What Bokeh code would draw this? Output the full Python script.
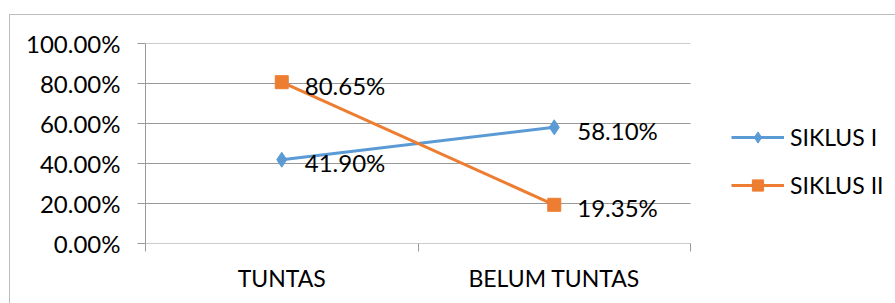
from bokeh.plotting import figure
from bokeh.models import (Range1d, FixedTicker, LinearAxis, Legend, LegendItem,
                          PrintfTickFormatter, ColumnDataSource)
from bokeh.core.properties import value
from bokeh.embed import file_html
from bokeh.resources import INLINE

categories = ["TUNTAS", "BELUM TUNTAS"]
siklus1 = [41.90, 58.10]
siklus2 = [80.65, 19.35]
series_names = ["SIKLUS I", "SIKLUS II"]
y_ticks = [0, 20, 40, 60, 80, 100]

FONT = "Lato"
BLUE = "#5B9BD5"
ORANGE = "#ED7D31"
GRID = "#999999"
BORDER = "#bdbdbd"

n = len(categories)
xpos = [i + 0.5 for i in range(n)]

p = figure(width=895, height=303, output_backend="svg", toolbar_location=None,
           x_range=Range1d(0, n * 750 / 545), y_range=Range1d(0, 100),
           min_border_left=145, min_border_right=0, min_border_top=43,
           min_border_bottom=60, x_axis_type=None, y_axis_type=None)
p.outline_line_color = None
p.background_fill_alpha = 0
p.border_fill_alpha = 0
p.styles = {
    "background-color": "white",
    "background-image": "linear-gradient(%s,%s), linear-gradient(%s,%s)" % (BORDER, BORDER, BORDER, BORDER),
    "background-size": "100% 1px, 1px 100%",
    "background-position": "9px 14px, 9px 14px",
    "background-repeat": "no-repeat",
}

# horizontal gridlines across the category area only
p.segment(x0=0, x1=n, y0=y_ticks, y1=y_ticks, line_color=GRID, line_width=1)

# y axis
yax = LinearAxis(ticker=FixedTicker(ticks=y_ticks),
                 formatter=PrintfTickFormatter(format="%.2f%%"))
yax.axis_line_color = GRID
yax.major_tick_line_color = GRID
yax.major_tick_out = 8
yax.major_tick_in = 0
yax.minor_tick_line_color = None
yax.major_label_text_font = FONT
yax.major_label_text_font_size = "24px"
yax.major_label_text_color = "black"
yax.major_label_standoff = 17
p.add_layout(yax, "left")

# x axis ticks on category boundaries
xax = LinearAxis(ticker=FixedTicker(ticks=list(range(n + 1))))
xax.axis_line_color = None
xax.major_tick_line_color = GRID
xax.major_tick_out = 8
xax.major_tick_in = 0
xax.minor_tick_line_color = None
xax.major_label_text_font_size = "0px"
xax.major_label_text_color = None
p.add_layout(xax, "below")

# x labels at category centers
xlab = LinearAxis(ticker=FixedTicker(ticks=xpos),
                  major_label_overrides={x: c for x, c in zip(xpos, categories)})
xlab.axis_line_color = None
xlab.major_tick_line_color = None
xlab.minor_tick_line_color = None
xlab.major_label_text_font = FONT
xlab.major_label_text_font_size = "23px"
xlab.major_label_text_color = "black"
xlab.major_label_standoff = 6
p.add_layout(xlab, "below")

p.xgrid.visible = False
p.ygrid.visible = False

src1 = ColumnDataSource(dict(x=xpos, y=siklus1,
                             t=["%.2f%%" % v for v in siklus1]))
src2 = ColumnDataSource(dict(x=xpos, y=siklus2,
                             t=["%.2f%%" % v for v in siklus2]))

l1 = p.line("x", "y", source=src1, line_color=BLUE, line_width=3)
m1 = p.scatter("x", "y", source=src1, marker="diamond", size=15,
               fill_color=BLUE, line_color=BLUE)
l2 = p.line("x", "y", source=src2, line_color=ORANGE, line_width=3)
m2 = p.scatter("x", "y", source=src2, marker="square", size=13,
               fill_color=ORANGE, line_color=ORANGE)

for s in (src1, src2):
    p.text("x", "y", text="t", source=s, x_offset=23, y_offset=3,
           text_font=value(FONT), text_font_size="24px", text_color="black",
           text_baseline="middle", text_align="left")

legend = Legend(items=[LegendItem(label=series_names[0], renderers=[l1, m1]),
                       LegendItem(label=series_names[1], renderers=[l2, m2])],
                location=(586, 44))
legend.glyph_width = 53
legend.glyph_height = 28
legend.spacing = 20
legend.padding = 0
legend.margin = 0
legend.label_standoff = 6
legend.label_height = 28
legend.label_text_font = FONT
legend.label_text_font_size = "23px"
legend.label_text_color = "black"
legend.border_line_color = None
legend.background_fill_alpha = 0
p.add_layout(legend, "center")

open("out.html", "w").write(file_html(p, INLINE))
